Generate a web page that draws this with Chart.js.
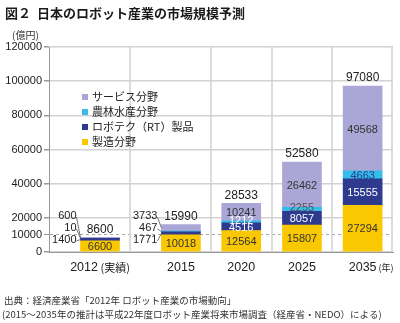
<!DOCTYPE html>
<html lang="ja">
<head>
<meta charset="utf-8">
<title>日本のロボット産業の市場規模予測</title>
<script src="https://cdn.jsdelivr.net/npm/chart.js@4/dist/chart.umd.min.js"></script>
<style>
  html, body { margin: 0; padding: 0; background: #fff; }
  #wrap { position: relative; width: 400px; height: 323px; }
</style>
</head>
<body>
<div id="wrap"><canvas id="robotChart" width="400" height="323"></canvas></div>
<script>
// 年ごとの市場規模（億円）
const years = ["2012", "2015", "2020", "2025", "2035"];
const yearNotes = ["(実績)", "", "", "", "(年)"];
const seizo = [6600, 10018, 12564, 15807, 27294];     // 製造分野
const robotech = [1400, 1771, 4516, 8057, 15555];     // ロボテク（RT）製品
const norin = [10, 467, 1212, 2255, 4663];            // 農林水産分野
const service = [600, 3733, 10241, 26462, 49568];     // サービス分野
const totals = [8600, 15990, 28533, 52580, 97080];
const yTicks = [0, 10000, 20000, 40000, 60000, 80000, 100000, 120000];

// 列の幅の比率と、列の中での棒のずらし量（左に数値を出す列は右寄せ）
const columnWeights = [4, 4, 3, 3, 3];
const columnShift = [0.13, 0.13, 0, 0, 0];

const JP = '"Noto Sans CJK JP", sans-serif';
const NUM = '"Liberation Sans", Arial, sans-serif';

const series = [
  { label: "製造分野", data: seizo, color: "#fac800", text: "#333" },
  { label: "ロボテク（RT）製品", data: robotech, color: "#2e3a8e", text: "#fff" },
  { label: "農林水産分野", data: norin, color: "#35bde9", text: ["#333", "#333", "#fff", "#555", "#2e3a8e"] },
  { label: "サービス分野", data: service, color: "#aaa7d6", text: "#333" }
];

// 列幅が不均等なカテゴリ軸
class ColumnScale extends Chart.CategoryScale {
  static id = "columns";
  edge(i) {
    const total = columnWeights.reduce((a, b) => a + b, 0);
    let acc = 0;
    for (let k = 0; k < i; k++) acc += columnWeights[k];
    return this.left + (this.right - this.left) * acc / total;
  }
  getPixelForValue(value) {
    if (typeof value !== "number") value = this.parse(value);
    const i = Math.round(value);
    const l = this.edge(i), r = this.edge(i + 1);
    return l + (r - l) * (0.5 + (columnShift[i] || 0));
  }
}
Chart.register(ColumnScale);

// 列の区切り線
const columnLines = {
  id: "columnLines",
  beforeDatasetsDraw(chart) {
    const xs = chart.scales.x;
    const area = chart.chartArea;
    const ctx = chart.ctx;
    ctx.save();
    ctx.strokeStyle = "#d2d2d2";
    ctx.lineWidth = 1.5;
    for (let i = 1; i <= years.length; i++) {
      const x = Math.round(xs.edge(i)) - (i === years.length ? 1 : 0);
      ctx.beginPath();
      ctx.moveTo(x, area.top);
      ctx.lineTo(x, area.bottom);
      ctx.stroke();
    }
    ctx.restore();
  }
};

// 棒の数値・合計・凡例・見出し・出典を描く
const annotate = {
  id: "annotate",
  afterDatasetsDraw(chart) {
    const ctx = chart.ctx;
    const base = chart.scales.y.getPixelForValue(0);
    ctx.save();
    ctx.font = "11px " + NUM;
    ctx.textBaseline = "middle";

    series.forEach((s, di) => {
      const meta = chart.getDatasetMeta(di);
      meta.data.forEach((bar, i) => {
        const v = s.data[i];
        const top = Math.min(bar.y, bar.base);
        const bottom = Math.max(bar.y, bar.base);
        const mid = (top + bottom) / 2;
        const left = bar.x - bar.width / 2;
        if (i < 2 && di > 0) {
          // 小さい棒は左側に数値を出して引き出し線でつなぐ
          const ly = base - 12 * di;
          ctx.textAlign = "right";
          ctx.fillStyle = "#222";
          ctx.fillText(String(v), left - 4, ly);
          ctx.strokeStyle = "#555";
          ctx.lineWidth = 0.8;
          ctx.beginPath();
          ctx.moveTo(left - 4, ly + 1);
          ctx.lineTo(left, mid);
          ctx.stroke();
        } else {
          const c = Array.isArray(s.text) ? s.text[i] : s.text;
          const nudge = bottom - top < 4 ? -2 : 0;
          ctx.textAlign = "center";
          ctx.fillStyle = c;
          ctx.fillText(String(v), bar.x, mid + nudge + 1);
        }
      });
    });

    // 合計
    const topMeta = chart.getDatasetMeta(series.length - 1);
    ctx.font = "12px " + NUM;
    ctx.fillStyle = "#222";
    ctx.textAlign = "center";
    topMeta.data.forEach((bar, i) => {
      ctx.fillText(String(totals[i]), bar.x, Math.min(bar.y, bar.base) - 8);
    });

    // 凡例
    ctx.font = "11px " + JP;
    ctx.textAlign = "left";
    const legendY = [97, 112, 127, 142];
    [3, 2, 1, 0].forEach((di, k) => {
      ctx.fillStyle = series[di].color;
      ctx.fillRect(82, legendY[k] - 3, 6, 6);
      ctx.fillStyle = "#222";
      ctx.fillText(series[di].label, 92, legendY[k]);
    });

    // 横軸の年
    const xs = chart.scales.x;
    years.forEach((y, i) => {
      const cx = xs.getPixelForValue(i);
      const ty = 268;
      ctx.font = "12.5px " + NUM;
      const w1 = ctx.measureText(y).width;
      ctx.fillStyle = "#222";
      if (!yearNotes[i]) {
        ctx.textAlign = "center";
        ctx.fillText(y, cx, ty);
        return;
      }
      const small = i === 0 ? 11 : 9;
      ctx.font = small + "px " + JP;
      const w2 = ctx.measureText(" " + yearNotes[i]).width;
      const x0 = i === 0 ? cx - (w1 + w2) / 2 : cx - w1 / 2;
      ctx.textAlign = "left";
      ctx.font = "12.5px " + NUM;
      ctx.fillText(y, x0, ty);
      ctx.font = small + "px " + JP;
      ctx.fillText(" " + yearNotes[i], x0 + w1, ty);
    });
    ctx.restore();
  },
  afterDraw(chart) {
    const ctx = chart.ctx;
    ctx.save();
    ctx.textBaseline = "middle";
    ctx.textAlign = "left";
    ctx.fillStyle = "#1a1a1a";
    ctx.font = "bold 13px " + JP;
    ctx.fillText("図２  日本のロボット産業の市場規模予測", 5, 13);
    ctx.font = "10px " + JP;
    ctx.fillStyle = "#333";
    ctx.fillText("(億円)", 12, 35);
    ctx.font = "9.5px " + JP;
    ctx.fillText("出典：経済産業省「2012年 ロボット産業の市場動向」", 4, 300);
    ctx.fillText("(2015～2035年の推計は平成22年度ロボット産業将来市場調査（経産省・NEDO）による)", 2, 314);
    ctx.restore();
  }
};

new Chart(document.getElementById("robotChart"), {
  type: "bar",
  data: {
    labels: years,
    datasets: series.map(s => ({
      label: s.label,
      data: s.data,
      backgroundColor: s.color,
      borderWidth: 0,
      barThickness: 39
    }))
  },
  options: {
    responsive: false,
    animation: false,
    devicePixelRatio: 1,
    layout: { padding: { top: 47, right: 7, bottom: 71, left: 0 } },
    plugins: {
      legend: { display: false },
      tooltip: { enabled: false }
    },
    scales: {
      x: {
        type: "columns",
        stacked: true,
        offset: true,
        afterFit: scale => { scale.height = 0; },
        ticks: { display: false },
        grid: { display: false },
        border: { display: true, color: "#999", width: 1 }
      },
      y: {
        stacked: true,
        min: 0,
        max: 120000,
        afterBuildTicks: scale => { scale.ticks = yTicks.map(v => ({ value: v })); },
        afterFit: scale => { scale.width = 49; },
        ticks: {
          padding: 2,
          color: "#222",
          font: { family: NUM, size: 11 },
          callback: v => String(v)
        },
        grid: {
          color: ctx => ctx.tick && ctx.tick.value === 10000 ? "#aaa" : "#d2d2d2",
          lineWidth: ctx => ctx.tick && ctx.tick.value === 10000 ? 1 : 1.5,
          tickLength: 5,
          tickColor: "#999"
        },
        border: {
          color: "#999",
          width: 1,
          dash: ctx => ctx.tick && ctx.tick.value === 10000 ? [3, 3] : []
        }
      }
    }
  },
  plugins: [columnLines, annotate]
});
</script>
</body>
</html>
